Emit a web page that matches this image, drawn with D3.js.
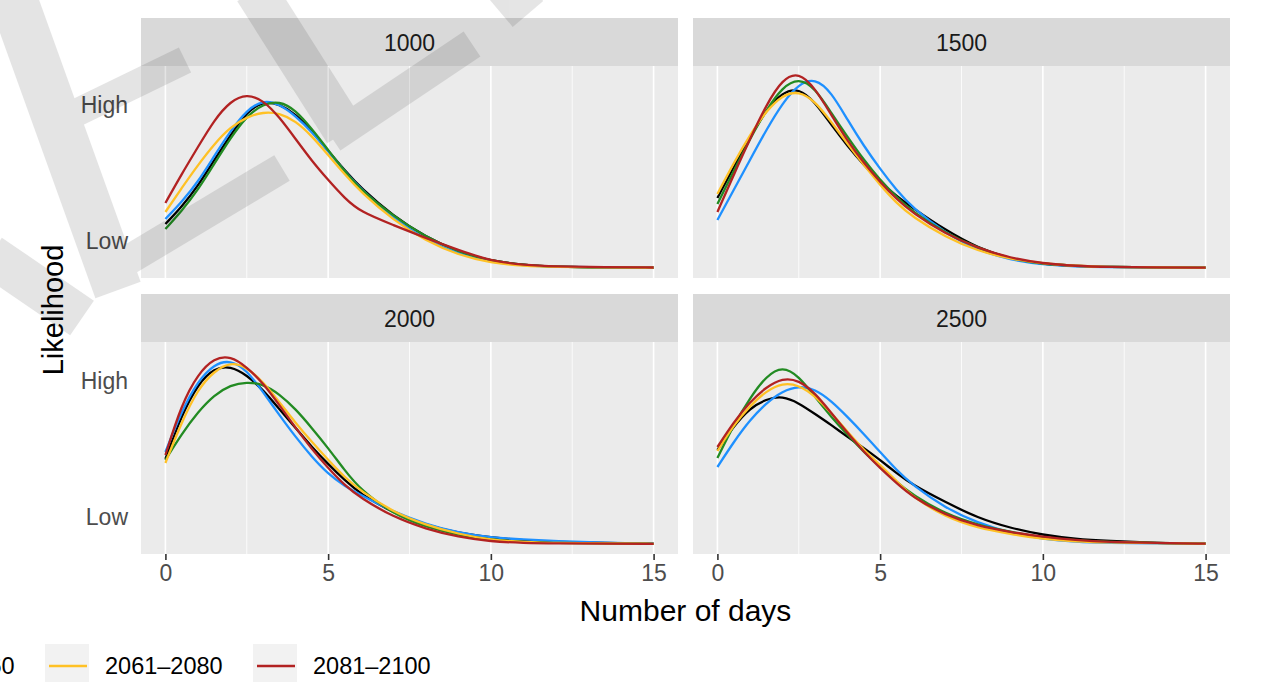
<!DOCTYPE html>
<html>
<head>
<meta charset="utf-8">
<script src="https://cdn.jsdelivr.net/npm/d3@7"></script>
<style>
body { margin: 0; background: #ffffff; }
svg { display: block; font-family: "Liberation Sans", Arial, Helvetica, sans-serif; }
</style>
</head>
<body>
<svg id="chart" width="1263" height="682"></svg>
<script>
// days on the x axis, shared by every curve
var days = [0, 0.5, 1, 1.5, 2, 2.5, 3, 3.5, 4, 4.5, 5, 5.5, 6, 7, 8, 9, 10, 11, 12, 13.5, 15];

var periods = ["1981–2000", "2021–2040", "2041–2060", "2061–2080", "2081–2100"];
var periodColours = ["#000000", "#1E90FF", "#228B22", "#FFC125", "#B22222"];
var facetLabels = ["1000", "1500", "2000", "2500"];

// relative likelihood (arbitrary units)
var black1000  = [44, 61, 82, 108, 133, 156, 167, 164, 154, 137, 117, 98, 80, 52, 31, 16, 7, 3, 1.2, 0.5, 0.3];
var blue1000   = [49, 66, 86, 112, 137, 158, 168, 164, 152, 136, 117, 97, 79, 50, 28, 14, 6, 2.5, 1.2, 0.5, 0.3];
var green1000  = [39, 57, 78, 104, 130, 152, 164, 167, 158, 139, 118, 97, 78, 52, 31, 16, 7, 3, 1.2, 0.5, 0.3];
var yellow1000 = [56, 80, 103, 124, 141, 151, 156, 155, 147, 132, 113, 94, 76, 48, 27, 13, 5, 2, 1, 0.5, 0.3];
var red1000    = [65, 94, 121, 148, 167, 174, 168, 151, 129, 107, 88, 70, 56, 43, 30, 18, 7, 3, 1.5, 0.8, 0.5];

var black1500  = [70, 101, 131, 158, 176, 180, 166, 143, 122, 103, 86, 72, 60, 38, 20, 9, 4, 2, 1, 0.5, 0.3];
var blue1500   = [48, 78, 108, 138, 165, 184, 190, 176, 148, 122, 99, 78, 60, 35, 18, 8, 3.5, 1.5, 1, 0.5, 0.3];
var green1500  = [64, 97, 129, 158, 181, 190, 180, 155, 131, 108, 88, 71, 56, 35, 20, 9, 4, 2, 1, 0.5, 0.3];
var yellow1500 = [74, 105, 133, 157, 173, 177, 167, 146, 124, 103, 83, 65, 51, 31, 17, 9, 4.5, 2, 1, 0.5, 0.3];
var red1500    = [56, 93, 129, 163, 189, 196, 180, 153, 127, 105, 86, 69, 55, 34, 20, 10, 4.5, 2, 1, 0.5, 0.3];

var black2000  = [85, 129, 160, 176, 178, 169, 154, 135, 116, 97, 80, 64, 50, 31, 19, 11, 6.5, 3.5, 2, 1, 0.3];
var blue2000   = [92, 133, 163, 180, 184, 174, 152, 129, 107, 87, 70, 58, 49, 32, 20, 11, 6.5, 4.5, 3, 1.2, 0.3];
var green2000  = [84, 110, 132, 149, 159, 162, 160, 150, 135, 116, 96, 74, 54, 30, 17, 9, 4, 2, 1, 0.5, 0.2];
var yellow2000 = [81, 122, 155, 173, 182, 177, 162, 142, 121, 102, 84, 67, 53, 32, 19, 10, 4, 2, 1, 0.5, 0.2];
var red2000    = [89, 140, 170, 186, 188, 177, 161, 139, 116, 95, 76, 59, 46, 27, 15, 7, 2.5, 1, 0.5, 0.3, 0.2];

var black2500  = [94, 118, 136, 145, 148, 141, 130, 119, 107, 96, 84, 71, 59, 42, 26, 16, 9, 5, 3, 1, 0.3];
var blue2500   = [77, 102, 124, 141, 153, 158, 155, 143, 127, 110, 92, 74, 59, 36, 21, 11, 5, 2, 1, 0.5, 0.3];
var green2500  = [86, 119, 146, 168, 178, 168, 147, 127, 109, 92, 77, 62, 49, 30, 19, 12, 6.5, 3.5, 2, 1, 0.3];
var yellow2500 = [93, 119, 138, 153, 161, 159, 148, 131, 112, 94, 79, 63, 47, 27, 16, 10, 5, 2.5, 1.5, 0.8, 0.3];
var red2500    = [97, 122, 142, 157, 166, 164, 151, 131, 111, 92, 76, 61, 47, 29, 18, 12, 7, 4, 2, 1, 0.3];

var xTicks = [0, 5, 10, 15];
var xMinorTicks = [2.5, 7.5, 12.5];
var yTickValues = [27, 163];
var yTickLabels = ["Low", "High"];

var facetSeries = [
    [black1000, blue1000, green1000, yellow1000, red1000],
    [black1500, blue1500, green1500, yellow1500, red1500],
    [black2000, blue2000, green2000, yellow2000, red2000],
    [black2500, blue2500, green2500, yellow2500, red2500]
];

var svg = d3.select("#chart");
var panelW = 537, panelH = 212, stripH = 48;
var colX = [141, 693];
var rowY = [18, 294];

var x = d3.scaleLinear().domain([-0.75, 15.75]).range([0, panelW]);
var y = d3.scaleLinear().domain([-10, 202]).range([panelH, 0]);

var line = d3.line()
    .x(function(d, i) { return x(days[i]); })
    .y(function(d) { return y(d); })
    .curve(d3.curveBasis);

facetLabels.forEach(function(label, f) {
    var col = f % 2, row = Math.floor(f / 2);
    var g = svg.append("g")
        .attr("transform", "translate(" + colX[col] + "," + rowY[row] + ")");

    // strip
    g.append("rect")
        .attr("width", panelW).attr("height", stripH)
        .attr("fill", "#D9D9D9");
    g.append("text")
        .attr("x", panelW / 2).attr("y", 33)
        .attr("text-anchor", "middle")
        .style("font-size", "23px")
        .style("fill", "#1A1A1A")
        .text(label);

    var p = g.append("g").attr("transform", "translate(0," + stripH + ")");
    p.append("rect")
        .attr("width", panelW).attr("height", panelH)
        .attr("fill", "#EBEBEB");

    // vertical grid only
    p.selectAll(".minor").data(xMinorTicks).enter().append("line")
        .attr("x1", function(d) { return x(d); }).attr("x2", function(d) { return x(d); })
        .attr("y1", 0).attr("y2", panelH)
        .attr("stroke", "#ffffff").attr("stroke-width", 0.8);
    p.selectAll(".major").data(xTicks).enter().append("line")
        .attr("x1", function(d) { return x(d); }).attr("x2", function(d) { return x(d); })
        .attr("y1", 0).attr("y2", panelH)
        .attr("stroke", "#ffffff").attr("stroke-width", 1.6);

    facetSeries[f].forEach(function(vals, s) {
        p.append("path")
            .datum(vals)
            .attr("d", line)
            .attr("fill", "none")
            .attr("stroke", periodColours[s])
            .attr("stroke-width", 2.3)
            .attr("stroke-linejoin", "round");
    });

    // y labels on the left column
    if (col === 0) {
        p.selectAll(".ylab").data(yTickValues).enter().append("text")
            .attr("x", -13)
            .attr("y", function(d) { return y(d); })
            .attr("dy", "0.33em")
            .attr("text-anchor", "end")
            .style("font-size", "23px")
            .style("fill", "#4D4D4D")
            .text(function(d, i) { return yTickLabels[i]; });
    }

    // x axis on bottom row
    if (row === 1) {
        var ax = p.append("g").attr("transform", "translate(0," + panelH + ")")
            .call(d3.axisBottom(x).tickValues(xTicks).tickSize(6).tickPadding(5).tickFormat(d3.format("d")));
        ax.select(".domain").remove();
        ax.selectAll(".tick line").attr("stroke", "#333333").attr("stroke-width", 1.6);
        ax.selectAll(".tick text")
            .style("font-size", "23px")
            .style("font-family", "\"Liberation Sans\", Arial, sans-serif")
            .attr("fill", "#4D4D4D");
    }
});

// axis titles
svg.append("text")
    .attr("x", (colX[0] + colX[1] + panelW) / 2).attr("y", 621)
    .attr("text-anchor", "middle")
    .style("font-size", "30px")
    .style("fill", "#000000")
    .text("Number of days");

svg.append("text")
    .attr("transform", "translate(63,310) rotate(-90)")
    .attr("text-anchor", "middle")
    .style("font-size", "29px")
    .style("fill", "#000000")
    .text("Likelihood");

// legend, running off the left edge as in the picture
var legendStep = 208, legendStart = 45 - 3 * legendStep;
var legend = svg.selectAll(".legendItem").data(periods).enter().append("g")
    .attr("transform", function(d, i) { return "translate(" + (legendStart + i * legendStep) + ",644)"; });
legend.append("rect")
    .attr("width", 44).attr("height", 44)
    .attr("fill", "#F2F2F2");
legend.append("line")
    .attr("x1", 4).attr("x2", 42).attr("y1", 22).attr("y2", 22)
    .attr("stroke", function(d, i) { return periodColours[i]; })
    .attr("stroke-width", 2.6);
legend.append("text")
    .attr("x", 60).attr("y", 22).attr("dy", "0.35em")
    .style("font-size", "23.5px")
    .style("fill", "#000000")
    .text(function(d) { return d; });

// faint watermark bands laid over the figure
var watermark = [
    { path: "M10,-10 L118,290", w: 48 },
    { path: "M45,128 L185,60", w: 28 },
    { path: "M115,268 L282,168", w: 30 },
    { path: "M255,-10 L345,132", w: 42 },
    { path: "M332,138 L472,44", w: 30 },
    { path: "M-10,255 L82,318", w: 42 },
    { path: "M495,-25 L528,14", w: 40 }
];
var wm = svg.append("g").attr("opacity", 0.1);
wm.selectAll("path").data(watermark).enter().append("path")
    .attr("d", function(d) { return d.path; })
    .attr("stroke", "#000000")
    .attr("stroke-width", function(d) { return d.w; })
    .attr("fill", "none");
</script>
</body>
</html>
